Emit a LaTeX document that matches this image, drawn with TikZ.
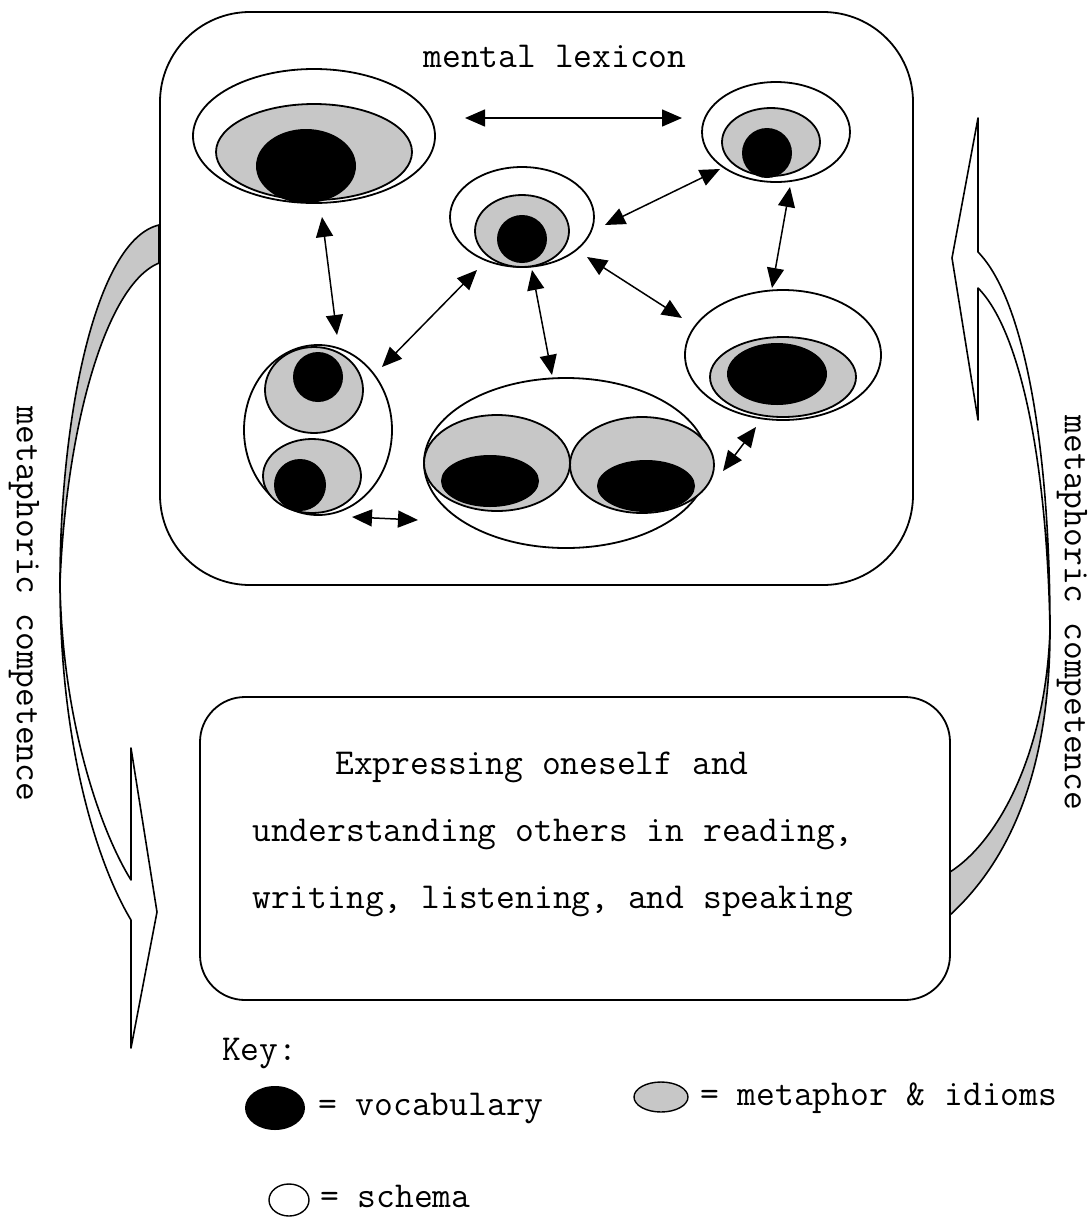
\documentclass[tikz,border=0pt]{standalone}
\usepackage{fontspec}
\usetikzlibrary{shapes.geometric,arrows.meta}
\begin{document}
\begin{tikzpicture}[x=1pt,y=-1pt,
  txt/.style={font=\ttfamily\fontsize{36.5}{44}\selectfont, inner sep=0pt},
  schema/.style={ellipse, draw, line width=1.8pt, fill=white, inner sep=0pt},
  meta/.style={ellipse, draw, line width=1.8pt, fill=black!22, inner sep=0pt},
  vocab/.style={ellipse, fill=black, inner sep=0pt},
  link/.style={{Triangle[length=20pt,width=17pt]}-{Triangle[length=20pt,width=17pt]}, line width=1.5pt},
  box/.style={draw, rectangle, line width=1.8pt, inner sep=0pt},
  ribbon/.style={line width=1.6pt, line join=round}
]
\useasboundingbox (0,0) rectangle (1091,1227);

% ---- curved ribbon arrows ----
% left
\filldraw[ribbon, fill=black!22] (159,225) .. controls (95,240) and (60,420) .. (60,583)
   .. controls (66,430) and (105,285) .. (159,263) -- cycle;
\filldraw[ribbon, fill=white] (60,583) .. controls (60,740) and (95,860) .. (131,920)
   -- (131,1048) -- (157,912) -- (131,748) -- (131,880)
   .. controls (100,830) and (62,720) .. (60,583) -- cycle;
% right
\filldraw[ribbon, fill=white] (978,252) .. controls (1025,300) and (1050,450) .. (1050,630)
   .. controls (1047,460) and (1020,330) .. (978,288)
   -- (978,420) -- (952,258) -- (978,118) -- cycle;
\filldraw[ribbon, fill=black!22] (1050,630) .. controls (1050,770) and (1010,860) .. (950,915)
   -- (950,872) .. controls (1000,840) and (1046,750) .. (1050,630) -- cycle;

\node[txt, rotate=-90] (lefttxt) at (24,604) {metaphoric competence};
\node[txt, rotate=-90] (righttxt) at (1072,613) {metaphoric competence};

% ---- boxes ----
\node[box, rounded corners=90pt, minimum width=753pt, minimum height=573pt] (lexbox) at (536.5,298.5) {};
\node[box, rounded corners=45pt, minimum width=750pt, minimum height=303pt] (exprbox) at (575,848.5) {};

\node[txt, anchor=base] (title) at (555,67) {mental lexicon};

% ---- A (top left) ----
\node[schema, minimum width=242pt, minimum height=134pt] (As) at (314,136) {};
\node[meta, minimum width=196pt, minimum height=96pt] (Am) at (314,152) {};
\node[vocab, minimum width=100pt, minimum height=74pt] (Av) at (306,166) {};
% ---- B (top right) ----
\node[schema, minimum width=148pt, minimum height=100pt] (Bs) at (776,132) {};
\node[meta, minimum width=98pt, minimum height=68pt] (Bm) at (771,142) {};
\node[vocab, minimum width=50pt, minimum height=50pt] (Bv) at (767,153) {};
% ---- C (centre) ----
\node[schema, minimum width=144pt, minimum height=100pt] (Cs) at (522,217) {};
\node[meta, minimum width=94pt, minimum height=72pt] (Cm) at (522,231) {};
\node[vocab, minimum width=50pt, minimum height=48pt] (Cv) at (522,239) {};
% ---- D (right) ----
\node[schema, minimum width=196pt, minimum height=130pt] (Ds) at (783,355) {};
\node[meta, minimum width=146pt, minimum height=80pt] (Dm) at (783,377) {};
\node[vocab, minimum width=100pt, minimum height=62pt] (Dv) at (777,374) {};
% ---- E (left) ----
\node[schema, minimum width=148pt, minimum height=170pt] (Es) at (318,430) {};
\node[meta, minimum width=98pt, minimum height=86pt] (Em1) at (314,390) {};
\node[vocab, minimum width=50pt, minimum height=50pt] (Ev1) at (318,377) {};
\node[meta, minimum width=98pt, minimum height=74pt] (Em2) at (312,476) {};
\node[vocab, minimum width=52pt, minimum height=52pt] (Ev2) at (300,485) {};
% ---- F (bottom) ----
\node[schema, minimum width=284pt, minimum height=170pt] (Fs) at (566,463) {};
\node[meta, minimum width=146pt, minimum height=96pt] (Fm1) at (497,463) {};
\node[vocab, minimum width=98pt, minimum height=52pt] (Fv1) at (490,481) {};
\node[meta, minimum width=144pt, minimum height=96pt] (Fm2) at (642,465) {};
\node[vocab, minimum width=98pt, minimum height=52pt] (Fv2) at (646,486) {};

% ---- links ----
\coordinate (h1) at (465,118); \coordinate (h2) at (682,118);
\coordinate (ae1) at (322,217); \coordinate (ae2) at (337,335);
\coordinate (cb1) at (605,225); \coordinate (cb2) at (720,169);
\coordinate (bd1) at (790,187); \coordinate (bd2) at (772,288);
\coordinate (cd1) at (587,257); \coordinate (cd2) at (682,318);
\coordinate (ce1) at (477,270); \coordinate (ce2) at (382,367);
\coordinate (cf1) at (532,270); \coordinate (cf2) at (552,375);
\coordinate (ef1) at (352,517); \coordinate (ef2) at (418,520);
\coordinate (fd1) at (723,471); \coordinate (fd2) at (756,427);
\draw[link] (h1) -- (h2);
\draw[link] (ae1) -- (ae2);
\draw[link] (cb1) -- (cb2);
\draw[link] (bd1) -- (bd2);
\draw[link] (cd1) -- (cd2);
\draw[link] (ce1) -- (ce2);
\draw[link] (cf1) -- (cf2);
\draw[link] (ef1) -- (ef2);
\draw[link] (fd1) -- (fd2);

% ---- lower box text ----
\node[txt, anchor=base] (l1) at (542,774) {Expressing oneself and};
\node[txt, anchor=base] (l2) at (553,841) {understanding others in reading,};
\node[txt, anchor=base] (l3) at (553,908) {writing, listening, and speaking};

% ---- key ----
\node[txt, anchor=base west] (keyt) at (222,1060) {Key:};
\node[vocab, minimum width=60pt, minimum height=44pt] (kvicon) at (275,1108) {};
\node[txt, anchor=base west] (kv) at (318,1115) {= vocabulary};
\node[meta, line width=1.4pt, minimum width=54pt, minimum height=30pt] (kmicon) at (661,1097) {};
\node[txt, anchor=base west] (km) at (700,1105) {= metaphor \& idioms};
\node[schema, line width=1.4pt, minimum width=40pt, minimum height=32pt] (ksicon) at (289,1200) {};
\node[txt, anchor=base west] (ks) at (320,1207) {= schema};
\end{tikzpicture}
\end{document}
